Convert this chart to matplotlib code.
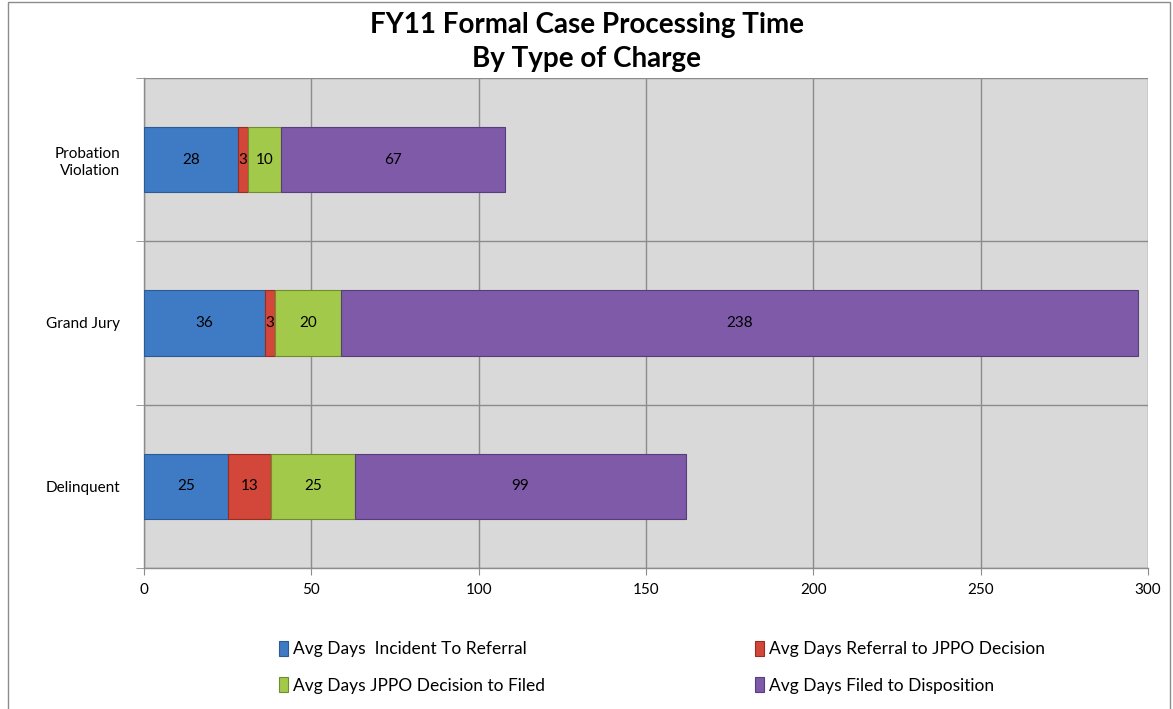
import numpy as np
import matplotlib.pyplot as plt
from matplotlib.patches import Rectangle

plt.rcParams['font.family'] = ['Lato', 'DejaVu Sans']

# Data (bottom to top)
categories = ["Delinquent", "Grand Jury", "Probation\nViolation"]
series_names = [
    "Avg Days  Incident To Referral",
    "Avg Days Referral to JPPO Decision",
    "Avg Days JPPO Decision to Filed",
    "Avg Days Filed to Disposition",
]
incident_to_referral = [25, 36, 28]
referral_to_decision = [13, 3, 3]
decision_to_filed = [25, 20, 10]
filed_to_disposition = [99, 238, 67]

series = [incident_to_referral, referral_to_decision,
          decision_to_filed, filed_to_disposition]
colors = ['#3f7bc4', '#d2473a', '#a3c94a', '#7e5aa8']
edges = ['#2c5a92', '#962c22', '#6f8d2c', '#573d7a']

fig = plt.figure(figsize=(11.73, 7.09), dpi=100)
ax = fig.add_axes([0.1228, 0.1989, 0.8559, 0.6911])
ax.set_facecolor('#d9d9d9')

y = np.arange(len(categories))
left = np.zeros(len(categories))
handles = []
for vals, c, ec, name in zip(series, colors, edges, series_names):
    vals = np.array(vals, dtype=float)
    bars = ax.barh(y, vals, left=left, height=0.4, color=c, edgecolor=ec,
                   linewidth=0.8, label=name, zorder=3)
    handles.append(bars)
    for b, v in zip(bars, vals):
        ax.text(b.get_x() + b.get_width() / 2, b.get_y() + b.get_height() / 2,
                f"{int(v)}", ha='center', va='center', fontsize=11,
                color='black', zorder=4)
    left += vals

ax.set_xlim(0, 300)
ax.set_ylim(-0.5, 2.5)
ax.set_xticks(np.arange(0, 301, 50))
ax.set_yticks(y)
ax.set_yticklabels(categories, fontsize=11, linespacing=1.3)
ax.set_yticks(np.arange(-0.5, 2.6, 1.0), minor=True)
ax.tick_params(axis='y', which='major', length=0, pad=17)
ax.tick_params(axis='y', which='minor', length=6, color='#8c8c8c')
ax.tick_params(axis='x', length=5, color='#8c8c8c', labelsize=11, pad=6)
ax.grid(axis='x', color='#8c8c8c', linewidth=1, zorder=1)
ax.grid(axis='y', which='minor', color='#8c8c8c', linewidth=1, zorder=1)
for s in ['top', 'right']:
    ax.spines[s].set_visible(False)
for s in ['left', 'bottom']:
    ax.spines[s].set_color('#8c8c8c')
    ax.spines[s].set_linewidth(1)
ax.set_axisbelow(True)

fig.text(0.5, 1 - 25 / 709, "FY11 Formal Case Processing Time",
         ha='center', va='center', fontsize=20, fontweight='bold')
fig.text(0.5, 1 - 59 / 709, "By Type of Charge",
         ha='center', va='center', fontsize=20, fontweight='bold')

# legend fills column-wise, reorder so rows read blue/red, green/purple
order = [0, 2, 1, 3]
fig.legend([handles[i] for i in order], [series_names[i] for i in order],
           ncol=2, loc='upper left', bbox_to_anchor=(270 / 1173, 1 - 632 / 709),
           frameon=False, fontsize=12.5, handlelength=0.55, handleheight=1.0,
           handletextpad=0.25, columnspacing=12.1, labelspacing=1.12,
           borderpad=0)

# outer chart frame
fig.patches.append(Rectangle((8 / 1173, -0.1), (1170 - 8) / 1173, 1.1 - 2 / 709,
                             transform=fig.transFigure, fill=False,
                             edgecolor='#8c8c8c', linewidth=1))

fig.savefig('out.png', dpi=100)
